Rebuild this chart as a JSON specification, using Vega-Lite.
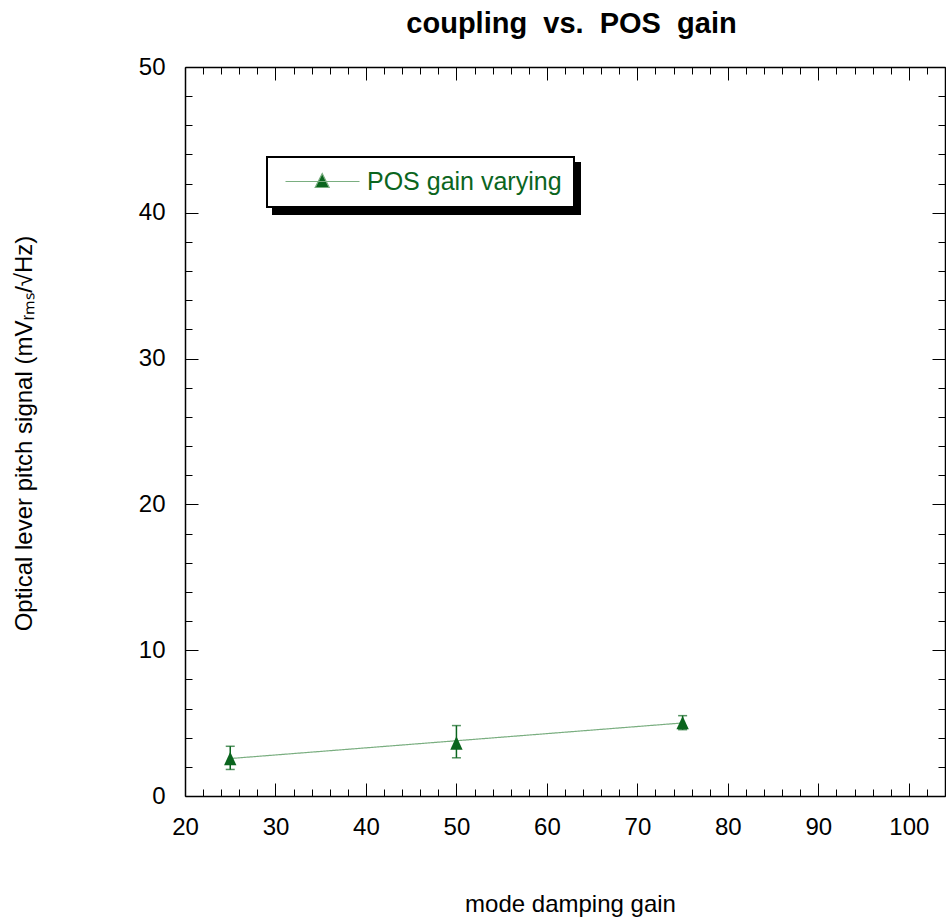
{
  "$schema": "https://vega.github.io/schema/vega-lite/v6.json",
  "width": 760,
  "height": 729,
  "autosize": {"type": "none"},
  "padding": {"left": 185, "top": 67, "right": 1, "bottom": 126},
  "background": "white",
  "config": {"view": {"stroke": null}, "legend": {"strokeWidth": 2}},
  "datasets": {
    "pts": [
      {"gain": 25, "signal": 2.57, "low": 1.82, "high": 3.41, "series": "POS gain varying"},
      {"gain": 50, "signal": 3.64, "low": 2.62, "high": 4.83, "series": "POS gain varying"},
      {"gain": 75, "signal": 5.03, "low": 4.55, "high": 5.51, "series": "POS gain varying"}
    ],
    "fit": [
      {"gain": 25, "signal": 2.57, "fitseries": "POS gain varying"},
      {"gain": 75, "signal": 5.01, "fitseries": "POS gain varying"}
    ]
  },
  "resolve": {"axis": {"x": "independent", "y": "independent"}},
  "layer": [
    {
      "data": {"name": "fit"},
      "mark": {"type": "line", "color": "#7aae80", "strokeWidth": 1.2},
      "encoding": {
        "x": {
          "field": "gain", "type": "quantitative",
          "scale": {"domain": [20, 104], "nice": false, "zero": false},
          "axis": {
            "orient": "bottom",
            "values": [20,22,24,26,28,30,32,34,36,38,40,42,44,46,48,50,52,54,56,58,60,62,64,66,68,70,72,74,76,78,80,82,84,86,88,90,92,94,96,98,100,102,104],
            "labelExpr": "datum.value % 10 === 0 ? datum.label : ''",
            "tickSize": {"condition": {"test": "datum.value % 10 === 0", "value": -13}, "value": -7},
            "tickColor": "black", "tickWidth": 1,
            "domainColor": "black", "domainWidth": 1.5,
            "labelFont": "Liberation Sans", "labelFontSize": 24, "labelColor": "black",
            "labelPadding": 32, "labelFlush": false, "labelOverlap": false,
            "grid": false,
            "title": "mode damping gain",
            "titleFont": "Liberation Sans", "titleFontSize": 24, "titleFontWeight": "normal", "titleColor": "black",
            "titleX": 385, "titleY": 115, "titleAlign": "center", "titleBaseline": "alphabetic"
          }
        },
        "y": {
          "field": "signal", "type": "quantitative",
          "scale": {"domain": [0, 50], "nice": false, "zero": false},
          "axis": {
            "orient": "left",
            "values": [0,2,4,6,8,10,12,14,16,18,20,22,24,26,28,30,32,34,36,38,40,42,44,46,48,50],
            "labelExpr": "datum.value % 10 === 0 ? datum.label : ''",
            "tickSize": {"condition": {"test": "datum.value % 10 === 0", "value": -13}, "value": -7},
            "tickColor": "black", "tickWidth": 1,
            "domainColor": "black", "domainWidth": 1.5,
            "labelFont": "Liberation Sans", "labelFontSize": 24, "labelColor": "black",
            "labelPadding": 33, "labelFlush": false, "labelOverlap": false,
            "grid": false,
            "title": "Optical lever pitch signal (mVᵣₘₛ/√Hz)",
            "titleFont": "Liberation Sans", "titleFontSize": 24, "titleFontWeight": "normal", "titleColor": "black",
            "titleX": -154, "titleY": 366, "titleAngle": -90, "titleAlign": "center", "titleBaseline": "alphabetic"
          }
        },
        "strokeDash": {
          "field": "fitseries", "type": "nominal",
          "scale": {"range": [[1, 0]]},
          "legend": {
            "orient": "none", "legendX": 88, "legendY": 96,
            "title": null, "padding": 12,
            "strokeColor": "black", "fillColor": "black",
            "symbolType": "M-1,-1.1L26.75,-1.1L26.75,1.1L-1,1.1Z",
            "symbolSize": 400, "symbolOpacity": 0,
            "symbolFillColor": "black", "symbolStrokeColor": "black",
            "labelFont": "Liberation Sans", "labelFontSize": 25, "labelColor": "black",
            "labelOffset": 0, "labelLimit": 0,
            "labelExpr": "''",
            "encode": {
              "symbols": {
                "update": {
                  "shape": {"value": "M-1,-1.1L26.75,-1.1L26.75,1.1L-1,1.1Z"},
                  "fill": {"value": "black"},
                  "stroke": {"value": "black"},
                  "opacity": {"value": 1}
                }
              }
            }
          }
        }
      }
    },
    {
      "data": {"name": "pts"},
      "mark": {"type": "errorbar", "color": "#0b651e", "thickness": 1.5, "ticks": {"size": 9, "thickness": 1.5, "color": "#0b651e"}},
      "encoding": {
        "x": {"field": "gain", "type": "quantitative", "axis": null},
        "y": {"field": "low", "type": "quantitative", "axis": null},
        "y2": {"field": "high"}
      }
    },
    {
      "data": {"name": "pts"},
      "mark": {"type": "point", "filled": true, "opacity": 1, "size": 180, "shape": "M0,-1L0.92,1L-0.92,1Z"},
      "encoding": {
        "x": {
          "field": "gain", "type": "quantitative",
          "axis": {
            "orient": "top",
            "values": [20,22,24,26,28,30,32,34,36,38,40,42,44,46,48,50,52,54,56,58,60,62,64,66,68,70,72,74,76,78,80,82,84,86,88,90,92,94,96,98,100,102,104],
            "labels": false,
            "tickSize": {"condition": {"test": "datum.value % 10 === 0", "value": -13}, "value": -7},
            "tickColor": "black", "tickWidth": 1,
            "domainColor": "black", "domainWidth": 1.5,
            "grid": false,
            "title": "coupling\u00a0\u00a0vs.\u00a0\u00a0POS\u00a0\u00a0gain",
            "titleFont": "Liberation Sans", "titleFontSize": 29, "titleFontWeight": "bold", "titleColor": "black",
            "titleX": 386, "titleY": -35, "titleAngle": 0, "titleAlign": "center", "titleBaseline": "alphabetic"
          }
        },
        "y": {
          "field": "signal", "type": "quantitative",
          "axis": {
            "orient": "right",
            "values": [0,2,4,6,8,10,12,14,16,18,20,22,24,26,28,30,32,34,36,38,40,42,44,46,48,50],
            "labels": false,
            "tickSize": {"condition": {"test": "datum.value % 10 === 0", "value": -13}, "value": -7},
            "tickColor": "black", "tickWidth": 1,
            "domainColor": "black", "domainWidth": 1.5,
            "grid": false, "title": null
          }
        },
        "color": {
          "field": "series", "type": "nominal",
          "scale": {"range": ["#0b651e"]},
          "legend": {
            "orient": "none", "legendX": 82, "legendY": 90,
            "title": null, "padding": 12,
            "strokeColor": "black", "fillColor": "white",
            "symbolType": "M-0.6,0L6.8,0M3.07,-0.8L3.77,0.6L2.37,0.6Z",
            "symbolSize": 400,
            "symbolStrokeColor": "#7aae80",
            "symbolStrokeWidth": 1.2,
            "symbolFillColor": "#0b651e",
            "labelFont": "Liberation Sans", "labelFontSize": 25, "labelColor": "#0b651e",
            "labelOffset": 63, "labelLimit": 0,
            "labelExpr": "datum.label + '\u00a0'",
            "encode": {
              "symbols": {
                "update": {
                  "shape": {"value": "M-0.6,0L6.8,0M3.07,-0.8L3.77,0.6L2.37,0.6Z"},
                  "stroke": {"value": "#7aae80"},
                  "strokeWidth": {"value": 1.2},
                  "fill": {"value": "#0b651e"},
                  "opacity": {"value": 1}
                }
              }
            }
          }
        }
      }
    }
  ]
}
